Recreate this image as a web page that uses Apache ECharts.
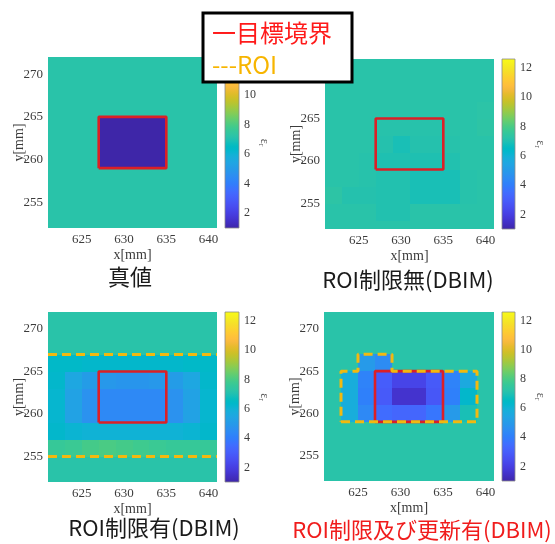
<!DOCTYPE html>
<html>
<head>
<meta charset="utf-8">
<script src="https://cdn.jsdelivr.net/npm/echarts@6/dist/echarts.min.js"></script>
<style>
html,body{margin:0;padding:0;background:#fff;}
#chart{width:555px;height:544px;}
</style>
</head>
<body>
<div id="chart"></div>
<script>
// ---------------- data ----------------
const xCenters = [622, 624, 626, 628, 630, 632, 634, 636, 638, 640];
const yCenters = [272, 270, 268, 266, 264, 262, 260, 258, 256, 254, 252];
const CELL = 2;

const xTicks = [625, 630, 635, 640];
const yTicks = [255, 260, 265, 270];
const cbTicks = [2, 4, 6, 8, 10, 12];
const cbRange = [1, 12.6];
const xRange = [621, 641];
const yRange = [252, 272];

const panelTitles = ['真値', 'ROI制限無(DBIM)', 'ROI制限有(DBIM)', 'ROI制限及び更新有(DBIM)'];
const legendLabels = ['一目標境界', '---ROI'];

// rows follow yCenters (top to bottom), columns follow xCenters
const trueValues = [
  [7.2,7.2,7.2,7.2,7.2,7.2,7.2,7.2,7.2,7.2],
  [7.2,7.2,7.2,7.2,7.2,7.2,7.2,7.2,7.2,7.2],
  [7.2,7.2,7.2,7.2,7.2,7.2,7.2,7.2,7.2,7.2],
  [7.2,7.2,7.2,7.2,7.2,7.2,7.2,7.2,7.2,7.2],
  [7.2,7.2,7.2,1.0,1.0,1.0,1.0,7.2,7.2,7.2],
  [7.2,7.2,7.2,1.0,1.0,1.0,1.0,7.2,7.2,7.2],
  [7.2,7.2,7.2,1.0,1.0,1.0,1.0,7.2,7.2,7.2],
  [7.2,7.2,7.2,7.2,7.2,7.2,7.2,7.2,7.2,7.2],
  [7.2,7.2,7.2,7.2,7.2,7.2,7.2,7.2,7.2,7.2],
  [7.2,7.2,7.2,7.2,7.2,7.2,7.2,7.2,7.2,7.2],
  [7.2,7.2,7.2,7.2,7.2,7.2,7.2,7.2,7.2,7.2]
];
const noRoiValues = [
  [7.2,7.2,7.2,7.2,7.2,7.2,7.2,7.2,7.2,7.2],
  [7.2,7.2,7.2,7.2,7.2,7.2,7.2,7.2,7.2,7.2],
  [7.2,7.2,7.2,7.2,7.2,7.2,7.2,7.2,7.2,7.2],
  [7.2,7.2,7.2,7.2,7.2,7.2,7.2,7.2,7.2,7.25],
  [7.2,7.2,7.2,7.15,7.15,7.15,7.15,7.2,7.2,7.3],
  [7.2,7.2,7.2,7.1,6.9,7.1,7.1,7.15,7.2,7.2],
  [7.2,7.2,7.15,7.0,7.0,7.0,7.0,7.05,7.2,7.2],
  [7.2,7.2,7.15,7.05,7.05,6.9,6.9,6.9,7.15,7.2],
  [7.3,7.1,7.1,7.05,7.05,6.9,6.9,6.9,7.15,7.2],
  [7.2,7.2,7.2,7.05,7.05,7.2,7.2,7.2,7.2,7.2],
  [7.2,7.2,7.2,7.2,7.2,7.2,7.2,7.2,7.2,7.2]
];
const roiFixedValues = [
  [7.2,7.2,7.2,7.2,7.2,7.2,7.2,7.2,7.2,7.2],
  [7.2,7.2,7.2,7.2,7.2,7.2,7.2,7.2,7.2,7.2],
  [7.2,7.2,7.2,7.2,7.2,7.2,7.2,7.2,7.2,7.2],
  [6.4,6.4,6.3,6.3,6.3,6.3,6.3,6.3,6.4,6.4],
  [6.3,5.5,5.1,4.9,4.8,4.8,4.9,5.1,5.5,6.3],
  [6.2,5.3,4.7,4.4,4.4,4.4,4.4,4.7,5.3,6.2],
  [6.2,5.3,4.7,4.4,4.4,4.4,4.4,4.7,5.3,6.2],
  [6.3,6.1,6.0,6.0,6.0,6.0,6.0,6.0,6.1,6.3],
  [7.6,7.7,7.9,8.0,7.9,7.8,7.7,7.6,7.6,7.6],
  [7.2,7.2,7.2,7.2,7.2,7.2,7.2,7.2,7.2,7.2],
  [7.2,7.2,7.2,7.2,7.2,7.2,7.2,7.2,7.2,7.2]
];
const roiUpdatedValues = [
  [7.2,7.2,7.2,7.2,7.2,7.2,7.2,7.2,7.2,7.2],
  [7.2,7.2,7.2,7.2,7.2,7.2,7.2,7.2,7.2,7.2],
  [7.2,7.2,7.2,7.2,7.2,7.2,7.2,7.2,7.2,7.2],
  [7.2,7.2,5.0,4.5,7.2,7.2,7.2,7.2,7.2,7.2],
  [7.2,5.8,4.2,3.0,2.2,2.2,2.9,4.2,5.6,7.2],
  [7.2,5.8,4.1,2.9,1.6,1.6,2.8,4.1,6.3,7.2],
  [7.2,5.8,4.4,3.5,3.3,3.3,3.8,5.0,6.9,7.2],
  [7.2,7.2,7.2,7.2,7.2,7.2,7.2,7.2,7.2,7.2],
  [7.2,7.2,7.2,7.2,7.2,7.2,7.2,7.2,7.2,7.2],
  [7.2,7.2,7.2,7.2,7.2,7.2,7.2,7.2,7.2,7.2],
  [7.2,7.2,7.2,7.2,7.2,7.2,7.2,7.2,7.2,7.2]
];

const targetX = [627, 635, 635, 627, 627];
const targetY = [259, 259, 265, 265, 259];
const roiBandX = [621, 641];
const roiBandY = [255, 267];
const roiPolyX = [623, 639, 639, 629, 629, 625, 625, 623, 623];
const roiPolyY = [259, 259, 265, 265, 267, 267, 265, 265, 259];

// ---------------- colormap (parula) ----------------
const PARULA = [
[0.2422,0.1504,0.6603],[0.2504,0.1650,0.7076],[0.2578,0.1818,0.7511],[0.2647,0.1978,0.7952],
[0.2706,0.2147,0.8364],[0.2751,0.2342,0.8710],[0.2783,0.2559,0.8991],[0.2803,0.2782,0.9221],
[0.2813,0.3006,0.9414],[0.2810,0.3228,0.9579],[0.2795,0.3447,0.9717],[0.2760,0.3667,0.9829],
[0.2699,0.3892,0.9906],[0.2602,0.4123,0.9952],[0.2440,0.4358,0.9988],[0.2206,0.4603,0.9973],
[0.1963,0.4847,0.9892],[0.1834,0.5074,0.9798],[0.1786,0.5289,0.9682],[0.1764,0.5499,0.9520],
[0.1687,0.5703,0.9359],[0.1540,0.5902,0.9218],[0.1460,0.6091,0.9079],[0.1380,0.6276,0.8973],
[0.1248,0.6459,0.8883],[0.1113,0.6635,0.8763],[0.0952,0.6798,0.8598],[0.0689,0.6948,0.8394],
[0.0297,0.7082,0.8163],[0.0036,0.7203,0.7917],[0.0067,0.7312,0.7660],[0.0433,0.7411,0.7394],
[0.0964,0.7500,0.7120],[0.1408,0.7584,0.6842],[0.1717,0.7670,0.6554],[0.1938,0.7758,0.6251],
[0.2161,0.7843,0.5923],[0.2470,0.7918,0.5567],[0.2906,0.7973,0.5188],[0.3406,0.8008,0.4789],
[0.3909,0.8029,0.4354],[0.4456,0.8024,0.3909],[0.5044,0.7993,0.3480],[0.5616,0.7942,0.3045],
[0.6174,0.7876,0.2612],[0.6720,0.7793,0.2227],[0.7242,0.7698,0.1910],[0.7738,0.7598,0.1646],
[0.8203,0.7498,0.1535],[0.8634,0.7406,0.1596],[0.9035,0.7330,0.1774],[0.9393,0.7288,0.2100],
[0.9728,0.7298,0.2394],[0.9956,0.7434,0.2371],[0.9970,0.7659,0.2199],[0.9952,0.7893,0.2028],
[0.9892,0.8136,0.1885],[0.9786,0.8386,0.1766],[0.9676,0.8639,0.1643],[0.9610,0.8890,0.1537],
[0.9597,0.9135,0.1423],[0.9628,0.9373,0.1265],[0.9691,0.9606,0.1064],[0.9769,0.9839,0.0805]
];
const parulaCss = PARULA.map(c => 'rgb(' + c.map(v => Math.round(v * 255)).join(',') + ')');

// ---------------- layout ----------------
const plotGrids = [
  {left: 48, top: 57, width: 169, height: 171},
  {left: 325, top: 59, width: 169, height: 170},
  {left: 48, top: 312, width: 169, height: 170},
  {left: 324, top: 312, width: 170, height: 169}
];
const cbGrids = [
  {left: 225, top: 57, width: 14, height: 171},
  {left: 502, top: 59, width: 13, height: 170},
  {left: 225, top: 312, width: 14, height: 170},
  {left: 502, top: 312, width: 13, height: 169}
];
const titlePos = [[130, 277], [408, 280], [154, 528], [422, 530]];
const titleColors = ['#1a1a1a', '#1a1a1a', '#1a1a1a', '#f01c1c'];

const SERIF = '"Liberation Serif", "DejaVu Serif", serif';
const SANS = '"Noto Sans CJK JP", "Noto Sans", sans-serif';
const RED = '#dc1f26';
const ORANGE = '#f2b90f';

function toCells(matrix) {
  const out = [];
  yCenters.forEach((y, r) => {
    xCenters.forEach((x, c) => { out.push([x, y, matrix[r][c]]); });
  });
  return out;
}
function zip(xs, ys) { return xs.map((x, i) => [x, ys[i]]); }

function renderCell(params, api) {
  const x = api.value(0), y = api.value(1);
  const p0 = api.coord([x - CELL / 2, y + CELL / 2]);
  const p1 = api.coord([x + CELL / 2, y - CELL / 2]);
  const cs = params.coordSys;
  const x0 = Math.round(Math.max(p0[0], cs.x));
  const x1 = Math.round(Math.min(p1[0], cs.x + cs.width));
  const y0 = Math.round(Math.max(p0[1], cs.y));
  const y1 = Math.round(Math.min(p1[1], cs.y + cs.height));
  if (x1 <= x0 || y1 <= y0) return;
  const col = api.visual('color');
  return {type: 'rect', shape: {x: x0, y: y0, width: x1 - x0, height: y1 - y0}, style: {fill: col}};
}

function renderColorbar(params, api) {
  const p0 = api.coord([0, cbRange[1]]);
  const p1 = api.coord([1, cbRange[0]]);
  const stops = parulaCss.map((c, i) => ({offset: i / (parulaCss.length - 1), color: c}));
  return {
    type: 'rect',
    shape: {x: p0[0], y: p0[1], width: p1[0] - p0[0], height: p1[1] - p0[1]},
    style: {fill: new echarts.graphic.LinearGradient(0, 1, 0, 0, stops), stroke: '#8a8a8a', lineWidth: 0.8}
  };
}

const grids = plotGrids.concat(cbGrids);
const xAxes = [], yAxes = [], series = [];
const axisFont = {fontFamily: SERIF, fontSize: 13, color: '#3c3c3c'};

plotGrids.forEach((g, i) => {
  xAxes.push({
    gridIndex: i, type: 'value', min: xRange[0], max: xRange[1],
    axisLine: {show: false}, axisTick: {show: false}, splitLine: {show: false},
    axisLabel: Object.assign({customValues: xTicks, margin: 5}, axisFont),
    name: 'x[mm]', nameLocation: 'middle', nameGap: 20, nameMoveOverlap: false,
    nameTextStyle: {fontFamily: SERIF, fontSize: 14, color: '#3c3c3c'}
  });
  yAxes.push({
    gridIndex: i, type: 'value', min: yRange[0], max: yRange[1],
    axisLine: {show: false}, axisTick: {show: false}, splitLine: {show: false},
    axisLabel: Object.assign({customValues: yTicks, margin: 5}, axisFont),
    name: 'y[mm]', nameLocation: 'middle', nameGap: 22, nameMoveOverlap: false,
    nameTextStyle: {fontFamily: SERIF, fontSize: 14, color: '#3c3c3c'}
  });
});
cbGrids.forEach((g, i) => {
  xAxes.push({gridIndex: 4 + i, type: 'value', min: 0, max: 1, show: false});
  yAxes.push({
    gridIndex: 4 + i, type: 'value', position: 'right', min: cbRange[0], max: cbRange[1],
    axisLine: {show: false}, splitLine: {show: false},
    axisTick: {show: true, customValues: cbTicks, inside: false, length: 2, lineStyle: {color: '#555', width: 1}},
    axisLabel: {customValues: cbTicks, margin: 5, fontFamily: SERIF, fontSize: 12, color: '#3c3c3c'},
    name: '{e|ε}{r|r}', nameLocation: 'middle', nameGap: 18, nameRotate: -90, nameMoveOverlap: false,
    nameTextStyle: {
      color: '#555',
      rich: {e: {fontFamily: SERIF, fontSize: 12, color: '#555'}, r: {fontFamily: SERIF, fontSize: 8, color: '#555', verticalAlign: 'bottom', padding: [6, 0, 0, 0]}}
    }
  });
});

const matrices = [trueValues, noRoiValues, roiFixedValues, roiUpdatedValues];
matrices.forEach((m, i) => {
  series.push({
    type: 'custom', xAxisIndex: i, yAxisIndex: i, renderItem: renderCell,
    data: toCells(m), encode: {x: 0, y: 1}, silent: true, animation: false, z: 1
  });
});
for (let i = 0; i < 4; i++) {
  series.push({
    type: 'line', xAxisIndex: i, yAxisIndex: i, data: zip(targetX, targetY),
    symbol: 'none', silent: true, animation: false, z: 5,
    lineStyle: {color: RED, width: 2.6}
  });
}
// ROI in panel 3: two horizontal dashed lines
roiBandY.forEach(y => {
  series.push({
    type: 'line', xAxisIndex: 2, yAxisIndex: 2, data: zip(roiBandX, [y, y]),
    symbol: 'none', silent: true, animation: false, z: 6,
    lineStyle: {color: ORANGE, width: 3, type: [9, 5]}
  });
});
// ROI in panel 4: polygon
series.push({
  type: 'line', xAxisIndex: 3, yAxisIndex: 3, data: zip(roiPolyX, roiPolyY),
  symbol: 'none', silent: true, animation: false, z: 6,
  lineStyle: {color: ORANGE, width: 3, type: [9, 5]}
});
// colorbars
for (let i = 0; i < 4; i++) {
  series.push({
    type: 'custom', xAxisIndex: 4 + i, yAxisIndex: 4 + i, renderItem: renderColorbar,
    data: [[0, cbRange[0]]], silent: true, animation: false, z: 2
  });
}

const graphics = panelTitles.map((t, i) => ({
  type: 'text', x: titlePos[i][0], y: titlePos[i][1], z: 50,
  style: {text: t, fill: titleColors[i], font: '22px ' + SANS, textAlign: 'center', textVerticalAlign: 'middle'}
}));
graphics.push({
  type: 'rect', shape: {x: 203, y: 13, width: 149, height: 69}, z: 60,
  style: {fill: '#ffffff', stroke: '#000000', lineWidth: 3}
});
graphics.push({
  type: 'text', x: 212, y: 33, z: 61,
  style: {text: legendLabels[0], fill: '#ff1a1a', font: '24px ' + SANS, textVerticalAlign: 'middle'}
});
graphics.push({
  type: 'text', x: 212, y: 65, z: 61,
  style: {text: legendLabels[1], fill: '#f7b500', font: '24px ' + SANS, textVerticalAlign: 'middle'}
});

const chart = echarts.init(document.getElementById('chart'), null, {renderer: 'canvas'});
chart.setOption({
  animation: false,
  backgroundColor: '#ffffff',
  grid: grids,
  xAxis: xAxes,
  yAxis: yAxes,
  visualMap: {
    type: 'continuous', show: false, min: cbRange[0], max: cbRange[1], dimension: 2,
    seriesIndex: [0, 1, 2, 3], inRange: {color: parulaCss}
  },
  series: series,
  graphic: graphics
});
</script>
</body>
</html>
